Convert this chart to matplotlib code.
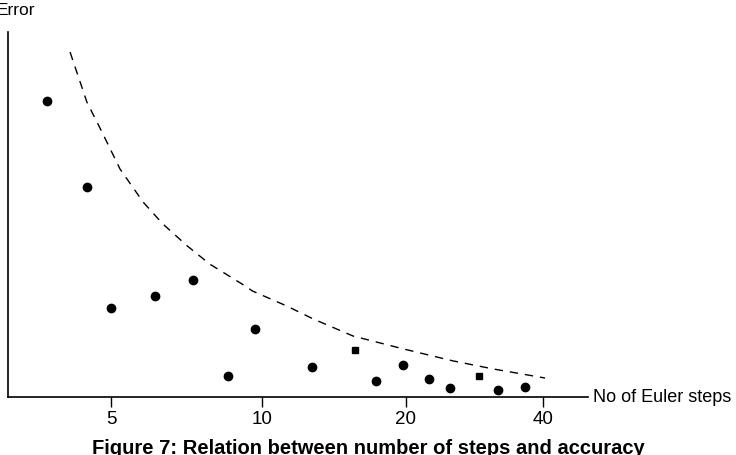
import numpy as np
import matplotlib.pyplot as plt

plt.rcParams['font.family'] = ['Liberation Sans', 'DejaVu Sans']

# positions along the (roughly logarithmic) step axis, 0..100 units
tick_pos = [17.8, 43.8, 68.6, 92.2]
tick_labels = ['5', '10', '20', '40']

# measured errors (arbitrary units, 0..100)
dot_x = [6.7, 13.6, 17.8, 25.3, 31.9, 37.9, 42.6, 52.4, 63.4, 68.1, 72.6, 76.2, 84.5, 89.1]
dot_y = [81.1, 57.5, 24.4, 27.7, 32.1, 5.8, 18.6, 8.2, 4.4, 8.8, 4.9, 2.5, 1.9, 2.7]
sq_x = [59.8, 81.2]
sq_y = [12.9, 5.8]

# dashed envelope curve
curve_x = [10.7, 13.6, 16.2, 19.3, 23.3, 26.7, 30.9, 34.8, 40.3, 42.2,
           48.1, 52.6, 59.5, 68.1, 76.7, 83.6, 92.6]
curve_y = [94.5, 80.8, 72.6, 62.5, 53.4, 47.4, 41.4, 36.4, 31.0, 29.0,
           24.9, 21.4, 16.7, 13.2, 9.9, 7.7, 5.2]

fig = plt.figure(figsize=(7.36, 4.56), dpi=100)
ax = fig.add_axes([8 / 736, 58 / 456, 580 / 736, 365 / 456])

ax.plot(curve_x, curve_y, color='k', lw=1.0, linestyle=(0, (6, 5)))
ax.plot(dot_x, dot_y, 'o', color='k', ms=6)
ax.plot(sq_x, sq_y, 's', color='k', ms=5)

ax.set_xlim(0, 100)
ax.set_ylim(0, 100)
ax.spines['top'].set_visible(False)
ax.spines['right'].set_visible(False)
ax.spines['left'].set_linewidth(1.2)
ax.spines['bottom'].set_linewidth(1.2)
ax.set_yticks([])
ax.set_xticks(tick_pos)
ax.set_xticklabels(tick_labels)
ax.tick_params(axis='x', direction='out', length=7.5, width=1.0,
               labelsize=13.5, pad=2)

fig.text(593 / 736, 1 - 398 / 456, 'No of Euler steps', fontsize=13,
         ha='left', va='center')
fig.text(-3 / 736, 1 - 3 / 456, 'Error', fontsize=12.5, ha='left', va='top')
fig.text(0.5, 1 - 439 / 456, 'Figure 7: Relation between number of steps and accuracy',
         fontsize=14.5, fontweight='bold', ha='center', va='top')

plt.savefig('out.png', dpi=100)
